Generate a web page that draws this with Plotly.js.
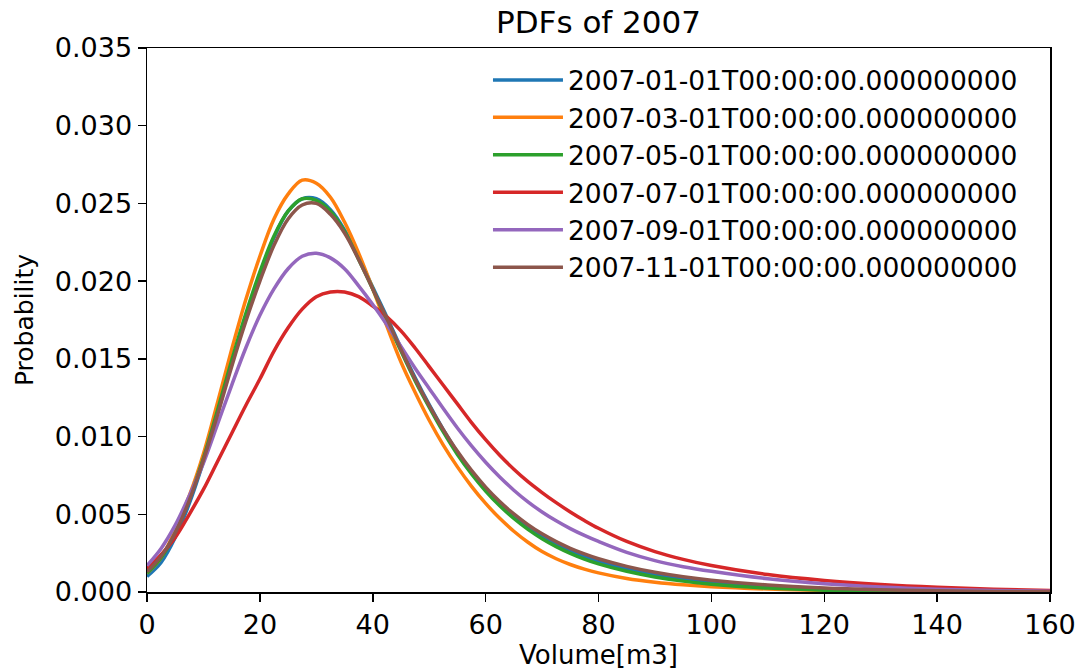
<!DOCTYPE html>
<html>
<head>
<meta charset="utf-8">
<script src="https://cdn.plot.ly/plotly-3.0.1.min.js"></script>
<style>html,body{margin:0;padding:0;background:#fff;}#chart{width:1079px;height:670px;}</style>
</head>
<body>
<div id="chart"></div>
<script>
// Volume grid (m3)
const volume = [0,2.5,5,7.5,10,12.5,15,17.5,20,22.5,25,27.5,30,32.5,35,37.5,40,42.5,45,47.5,50,52.5,55,57.5,60,62.5,65,67.5,70,72.5,75,77.5,80,85,90,95,100,110,120,130,140,150,160];

const seriesNames = [
  "2007-01-01T00:00:00.000000000",
  "2007-03-01T00:00:00.000000000",
  "2007-05-01T00:00:00.000000000",
  "2007-07-01T00:00:00.000000000",
  "2007-09-01T00:00:00.000000000",
  "2007-11-01T00:00:00.000000000"
];

const pdfJan = [0.0010,0.0019,0.0035,0.0057,0.0084,0.0115,0.0147,0.0177,0.0204,0.0228,0.0245,0.0253,0.0253,0.0246,0.0233,0.0215,0.0196,0.0177,0.0157,0.0138,0.01205,0.01045,0.0090,0.00775,0.00665,0.00570,0.00488,0.00418,0.00358,0.00307,0.00264,0.00228,0.00198,0.00150,0.00113,0.00085,0.00063,0.00034,0.00017,0.00008,0.00004,0.00002,0.00001];
const pdfMar = [0.0012,0.0022,0.0040,0.0062,0.0089,0.0122,0.0156,0.0188,0.0216,0.0240,0.0256,0.0265,0.0263,0.0254,0.0238,0.0218,0.0195,0.0171,0.0148,0.01285,0.01105,0.00945,0.00805,0.00680,0.00570,0.00474,0.00391,0.00320,0.00260,0.00214,0.00177,0.00147,0.00123,0.00087,0.00063,0.00046,0.00034,0.00019,0.0001,0.00005,0.00002,0.00001,0.0];
const pdfMay = [0.0012,0.0022,0.0038,0.0060,0.0086,0.0117,0.0149,0.0179,0.0206,0.0229,0.0245,0.0253,0.0252,0.0245,0.0232,0.0214,0.0195,0.0175,0.0155,0.0136,0.0119,0.0103,0.00885,0.0076,0.0065,0.00555,0.00473,0.00403,0.00343,0.00292,0.00249,0.00212,0.00181,0.00133,0.00097,0.00070,0.0005,0.00025,0.00012,0.00006,0.00003,0.00001,0.0];
const pdfJul = [0.0015,0.0024,0.0035,0.0050,0.0066,0.0084,0.0102,0.0120,0.0137,0.0155,0.0170,0.0182,0.0190,0.0193,0.0193,0.0190,0.0184,0.0177,0.0168,0.0157,0.0145,0.0133,0.0121,0.0109,0.0098,0.0088,0.0079,0.0071,0.0064,0.00575,0.00515,0.0046,0.0041,0.00325,0.0026,0.0021,0.0017,0.00112,0.00074,0.00048,0.0003,0.00018,0.0001];
const pdfSep = [0.0017,0.0028,0.0043,0.0062,0.0083,0.0108,0.0133,0.0157,0.0178,0.0195,0.0208,0.0216,0.0218,0.0215,0.0208,0.0197,0.0185,0.0172,0.0158,0.0144,0.0131,0.0118,0.01055,0.0094,0.00835,0.0074,0.00655,0.0058,0.00515,0.00458,0.00408,0.00364,0.00325,0.00255,0.00202,0.00163,0.00133,0.00085,0.00053,0.00032,0.00018,0.0001,0.00005];
const pdfNov = [0.0013,0.0023,0.0038,0.0059,0.0085,0.0114,0.0145,0.0174,0.0200,0.0223,0.0240,0.0249,0.0250,0.0243,0.0231,0.0214,0.0195,0.0176,0.0156,0.0137,0.0120,0.01045,0.00905,0.00782,0.00675,0.00582,0.00502,0.00433,0.00374,0.00324,0.00281,0.00245,0.00214,0.00165,0.00127,0.00098,0.00076,0.00045,0.00026,0.00015,0.00008,0.00004,0.00002];

const xTicks = [0,20,40,60,80,100,120,140,160];
const yTicks = [0,0.005,0.010,0.015,0.020,0.025,0.030,0.035];

const colors = ["#1f77b4","#ff7f0e","#2ca02c","#d62728","#9467bd","#8c564b"];
const allSeries = [pdfJan,pdfMar,pdfMay,pdfJul,pdfSep,pdfNov];

const FONT = "DejaVu Sans, sans-serif";

const traces = allSeries.map((ys,i)=>({
  type:"scatter", mode:"lines",
  x: volume, y: ys, name: seriesNames[i],
  line:{color:colors[i], width:3.5, shape:"spline", smoothing:1.0},
  hoverinfo:"skip"
}));

const axisCommon = {
  showline:true, linecolor:"#000", linewidth:1.5, mirror:true,
  ticks:"outside", ticklen:8, tickwidth:1.5, tickcolor:"#000",
  showgrid:false, zeroline:false,
  tickfont:{family:FONT, size:27, color:"#000"}
};

const layout = {
  width:1079, height:670,
  margin:{l:147, r:29, t:48, b:78, pad:0},
  paper_bgcolor:"#fff", plot_bgcolor:"#fff",
  font:{family:FONT, color:"#000"},
  title:{text:"PDFs of 2007", font:{family:FONT, size:31, color:"#000"},
         xref:"paper", x:0.5, xanchor:"center", yref:"paper", y:1, yanchor:"bottom", pad:{b:15}},
  xaxis:Object.assign({}, axisCommon, {
    range:[0,160], tickvals:xTicks, ticktext:xTicks.map(String),
    title:{text:"Volume[m3]", font:{family:FONT, size:26, color:"#000"}, standoff:4}
  }),
  yaxis:Object.assign({}, axisCommon, {
    range:[0,0.035], tickvals:yTicks, ticktext:yTicks.map(v=>v.toFixed(3)),
    title:{text:"Probability", font:{family:FONT, size:25, color:"#000"}, standoff:14}
  }),
  showlegend:true,
  legend:{x:0.3776, y:0.985, xanchor:"left", yanchor:"top",
          bgcolor:"rgba(0,0,0,0)", borderwidth:0,
          font:{family:FONT, size:26.5, color:"#000"},
          itemwidth:70, tracegroupgap:0}
};

Plotly.newPlot("chart", traces, layout, {staticPlot:true, displayModeBar:false});
</script>
</body>
</html>
